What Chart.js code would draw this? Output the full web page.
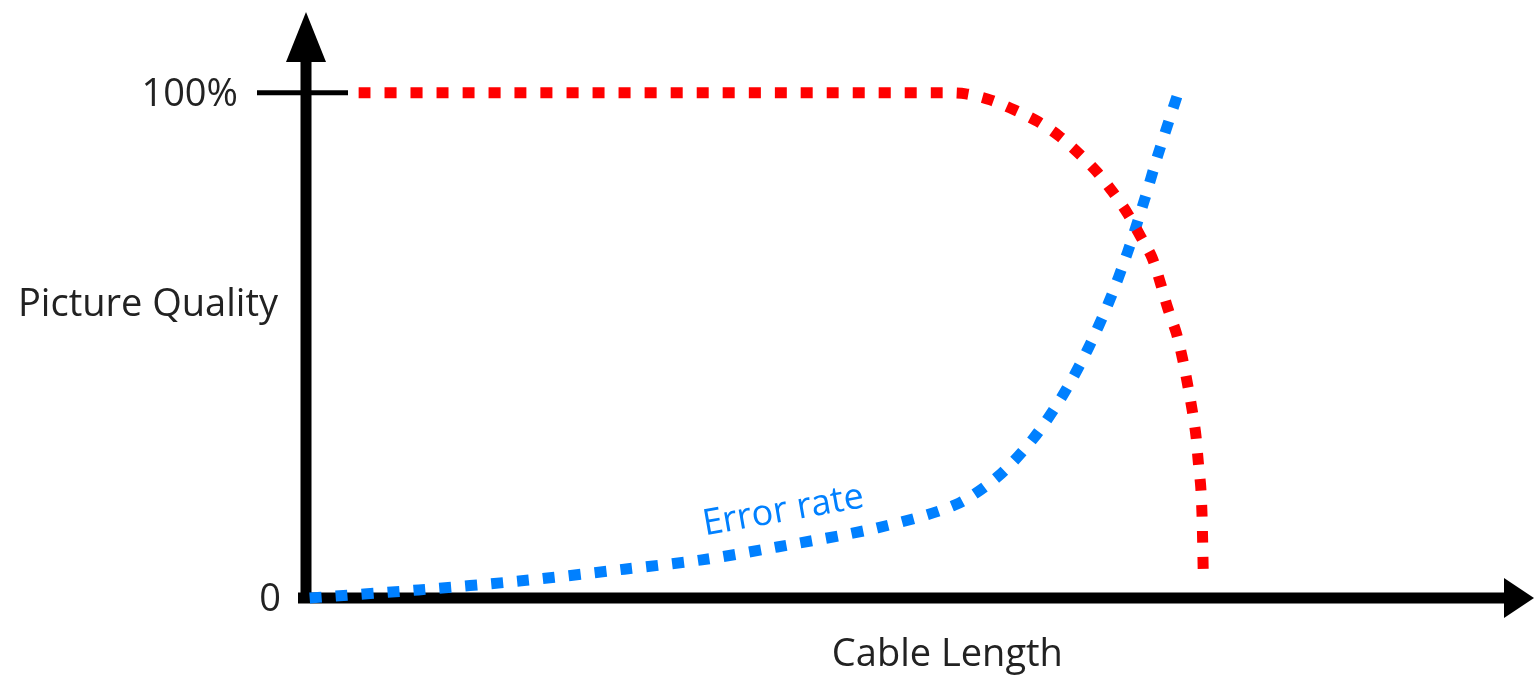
<!DOCTYPE html>
<html>
<head>
<meta charset="utf-8">
<title>Picture Quality vs Cable Length</title>
<script src="https://cdn.jsdelivr.net/npm/chart.js@4.4.1/dist/chart.umd.min.js"></script>
<style>
  html, body { margin: 0; padding: 0; background: #fff; }
  canvas { display: block; }
</style>
</head>
<body>
<canvas id="quality-chart" width="1534" height="678"></canvas>
<script>
// values (x = cable length, arbitrary units 0..100; y = percent)
const qualityX = [4.3, 52.2, 53.9, 55.9, 57.9, 59.8, 61.5, 63.1, 64.6, 65.9, 67.1, 68.2, 69.1,
  69.8, 70.4, 71.1, 71.6, 72.0, 72.4, 72.7, 72.9, 73.1, 73.2, 73.25, 73.3];
const qualityY = [100, 100, 99.8, 98.6, 96.6, 94.3, 91.5, 88.1, 84.4, 80.4, 76.2, 71.5, 67.5,
  62.4, 57.4, 52.5, 47.5, 42.6, 37.2, 32.3, 26.9, 22.0, 16.8, 11.9, 5.5];

const errorX = [0.3, 9.2, 17.6, 26.0, 32.2, 38.5, 46.7, 53.0, 56.5, 59.4, 61.8, 63.8, 65.6,
  67.1, 68.4, 69.6, 71.2];
const errorY = [0, 1.6, 3.4, 5.7, 7.5, 10.1, 13.9, 18.4, 24.0, 31.5, 40.0, 48.9, 58.6,
  68.3, 78.0, 87.7, 99.6];

const yTickValues = [0, 100];
const yTickLabels = ['0', '100%'];
const yAxisTitle = 'Picture Quality';
const xAxisTitle = 'Cable Length';
const errorLabel = 'Error rate';

const toPoints = (xs, ys) => xs.map((x, i) => ({ x: x, y: ys[i] }));

const FONT = '"Open Sans", "Noto Sans", sans-serif';
const RED = '#ff0000';
const BLUE = '#0080ff';

const axesPlugin = {
  id: 'arrowAxes',
  beforeDatasetsDraw(chart) {
    const { ctx, scales } = chart;
    const xs = scales.x;
    const ys = scales.y;
    const x0 = xs.getPixelForValue(0);
    const y0 = ys.getPixelForValue(0);
    const top = chart.chartArea.top;
    const right = chart.chartArea.right + 4;
    ctx.save();
    ctx.fillStyle = '#000';
    ctx.strokeStyle = '#000';
    // y axis
    ctx.lineWidth = 11;
    ctx.beginPath();
    ctx.moveTo(x0, y0 + 5);
    ctx.lineTo(x0, top + 40);
    ctx.stroke();
    ctx.beginPath();
    ctx.moveTo(x0, top);
    ctx.lineTo(x0 - 20, top + 50);
    ctx.lineTo(x0 + 20, top + 50);
    ctx.closePath();
    ctx.fill();
    // x axis
    ctx.beginPath();
    ctx.moveTo(x0 - 8, y0);
    ctx.lineTo(right - 20, y0);
    ctx.stroke();
    ctx.beginPath();
    ctx.moveTo(right, y0);
    ctx.lineTo(right - 30, y0 - 20);
    ctx.lineTo(right - 30, y0 + 20);
    ctx.closePath();
    ctx.fill();
    // 100% tick
    const yt = ys.getPixelForValue(yTickValues[1]);
    ctx.lineWidth = 5;
    ctx.beginPath();
    ctx.moveTo(x0 - 49, yt);
    ctx.lineTo(x0 + 42, yt);
    ctx.stroke();
    ctx.restore();
  },
  afterDraw(chart) {
    const { ctx, scales } = chart;
    const xs = scales.x;
    const ys = scales.y;
    const x0 = xs.getPixelForValue(0);
    ctx.save();
    ctx.fillStyle = '#222';
    ctx.font = '38px ' + FONT;
    ctx.textBaseline = 'middle';
    ctx.textAlign = 'right';
    ctx.fillText(yTickLabels[0], x0 - 25, ys.getPixelForValue(yTickValues[0]) + 2);
    ctx.fillText(yTickLabels[1], x0 - 68, ys.getPixelForValue(yTickValues[1]) + 2);
    ctx.textAlign = 'left';
    ctx.fillText(yAxisTitle, 18, ys.getPixelForValue(58));
    ctx.textAlign = 'center';
    ctx.fillText(xAxisTitle, xs.getPixelForValue(52.4), ys.getPixelForValue(0) + 57);
    // error rate label, along the blue curve
    ctx.fillStyle = BLUE;
    ctx.font = '36px ' + FONT;
    ctx.translate(xs.getPixelForValue(39), ys.getPixelForValue(17.2));
    ctx.rotate(-10 * Math.PI / 180);
    ctx.fillText(errorLabel, 0, 0);
    ctx.restore();
  }
};

const chart = new Chart(document.getElementById('quality-chart'), {
  type: 'scatter',
  data: {
    datasets: [
      {
        label: 'Picture quality',
        data: toPoints(qualityX, qualityY),
        showLine: true,
        borderColor: RED,
        borderWidth: 11,
        borderDash: [12, 14],
        borderCapStyle: 'butt',
        pointRadius: 0,
        tension: 0.3,
        clip: false,
      },
      {
        label: errorLabel,
        data: toPoints(errorX, errorY),
        showLine: true,
        borderColor: BLUE,
        borderWidth: 11,
        borderDash: [12, 14],
        borderCapStyle: 'butt',
        pointRadius: 0,
        tension: 0.3,
        clip: false,
      },
    ],
  },
  options: {
    responsive: false,
    animation: false,
    layout: { padding: { left: 306, right: 4, top: 12, bottom: 80 } },
    plugins: { legend: { display: false }, tooltip: { enabled: false } },
    scales: {
      x: { type: 'linear', min: 0, max: 100, display: false },
      y: { type: 'linear', min: 0, max: 116, display: false },
    },
  },
  plugins: [axesPlugin],
});
</script>
</body>
</html>
